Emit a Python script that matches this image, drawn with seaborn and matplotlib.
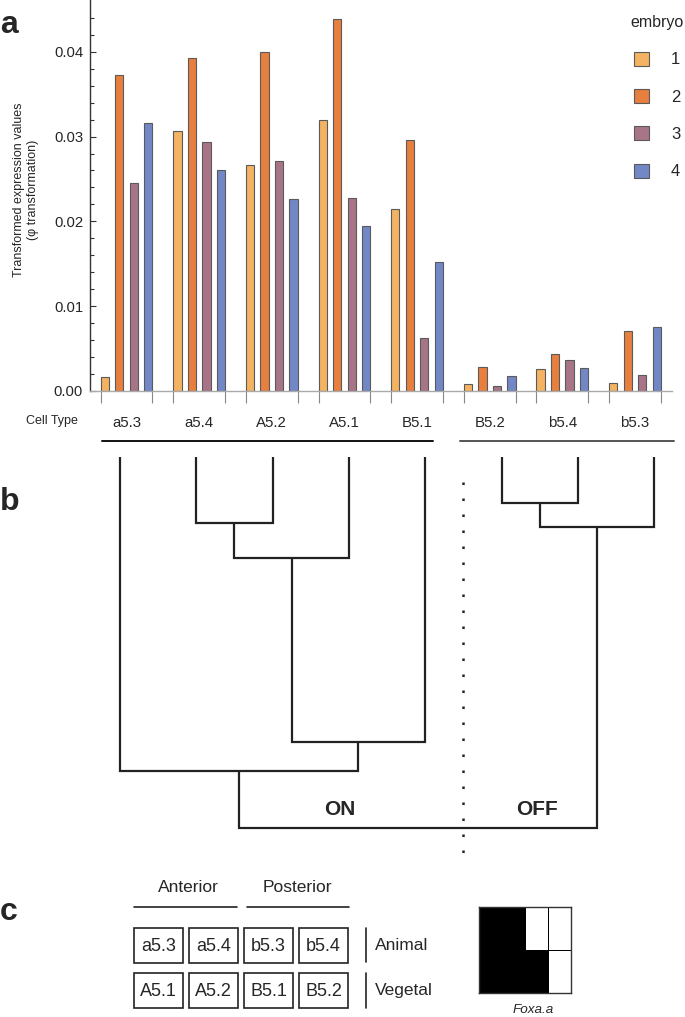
import numpy as np
import pandas as pd
import matplotlib
matplotlib.use('Agg')
import matplotlib.pyplot as plt
from matplotlib.patches import Rectangle
import seaborn as sns

# bar chart data (panel a)
cells = ['a5.3', 'a5.4', 'A5.2', 'A5.1', 'B5.1', 'B5.2', 'b5.4', 'b5.3']
embryos = ['1', '2', '3', '4']
emb1 = [0.0016, 0.0306, 0.0267, 0.0320, 0.0215, 0.0008, 0.0026, 0.0010]
emb2 = [0.0373, 0.0393, 0.0400, 0.0439, 0.0296, 0.0028, 0.0044, 0.0071]
emb3 = [0.0245, 0.0294, 0.0271, 0.0227, 0.0063, 0.0006, 0.0036, 0.0019]
emb4 = [0.0316, 0.0261, 0.0226, 0.0194, 0.0152, 0.0018, 0.0027, 0.0075]
colors = ['#F3B362', '#E7803F', '#A87487', '#7287C6']

# dendrogram data (panel b): (left, right, height)
merges = [
    ('a5.4', 'A5.2', 0.178),
    ('n1', 'A5.1', 0.272),
    ('n2', 'B5.1', 0.768),
    ('a5.3', 'n3', 0.846),
    ('B5.2', 'b5.4', 0.124),
    ('n5', 'b5.3', 0.189),
    ('n4', 'n6', 1.0),
]

# panel c layout
top_row = ['a5.3', 'a5.4', 'b5.3', 'b5.4']
bottom_row = ['A5.1', 'A5.2', 'B5.1', 'B5.2']
on_cells = ['a5.3', 'a5.4', 'A5.2', 'A5.1', 'B5.1']

W, H = 685, 1017
sns.set_style('ticks')
plt.rcParams['font.family'] = ['Liberation Sans', 'DejaVu Sans']

fig = plt.figure(figsize=(W / 100, H / 100), dpi=100)

# ---- panel a ----
ax = fig.add_axes([90 / W, 1 - 391 / H, (672 - 90) / W, 391 / H])
df = pd.DataFrame({
    'cell': np.repeat(cells, 4),
    'embryo': embryos * len(cells),
    'value': np.array([emb1, emb2, emb3, emb4]).T.ravel(),
})
bw, bgap = 0.8, 0.43
sns.barplot(data=df, x='cell', y='value', hue='embryo', order=cells,
            hue_order=embryos, palette=colors, width=bw, gap=bgap, saturation=1,
            edgecolor='#5a5a5a', linewidth=0.8, errorbar=None, ax=ax)
ax.set_xlim(-0.503, 7.51)
ax.set_ylim(0, 0.0461)
ax.set_xlabel('')
ax.set_ylabel('')
ax.set_yticks([0, 0.01, 0.02, 0.03, 0.04])
ax.set_yticklabels(['0.00', '0.01', '0.02', '0.03', '0.04'])
ax.set_yticks(np.arange(0, 0.046, 0.002), minor=True)
edge = bw / 2 - (bw / len(embryos)) * bgap / 2
ax.set_xticks([i + d for i in range(len(cells)) for d in (-edge, edge)], minor=True)
ax.tick_params(axis='x', which='major', length=0, pad=18, labelsize=10.8)
ax.tick_params(axis='x', which='minor', direction='out', length=8.5, width=0.8, color='#888888')
ax.tick_params(axis='y', which='major', direction='in', length=4.5, width=0.8,
               color='#333333', labelsize=10.7, pad=5)
ax.tick_params(axis='y', which='minor', direction='in', length=3.2, width=0.8, color='#333333')
for s in ['top', 'right']:
    ax.spines[s].set_visible(False)
ax.spines['left'].set_color('#333333')
ax.spines['left'].set_linewidth(1)
ax.spines['bottom'].set_color('#aaaaaa')
ax.spines['bottom'].set_linewidth(1)
sns.move_legend(ax, 'upper right', bbox_to_anchor=(684 / W, 1 - 15 / H),
                bbox_transform=fig.transFigure, frameon=False, title='embryo',
                fontsize=12, title_fontsize=11.5, handlelength=0.9, handleheight=0.9,
                handletextpad=1.3, labelspacing=1.3, borderpad=0, borderaxespad=0)

# ---- panel b ----
axd = fig.add_axes([0, 1 - 870 / H, 1, 420 / H])
axd.set_xlim(-120 / 76.3, (W - 120) / 76.3)
axd.set_ylim(413 / 371, -7 / 371)
axd.axis('off')
pos = {c: (i, 0.0) for i, c in enumerate(cells)}
for k, (l, r, h) in enumerate(merges, start=1):
    xl, hl = pos[l]
    xr, hr = pos[r]
    axd.plot([xl, xl, xr, xr], [hl, h, h, hr], color='#222222', lw=1.6,
             solid_joinstyle='miter', solid_capstyle='butt')
    pos['n%d' % k] = ((xl + xr) / 2, h)
axd.plot([4.495, 4.495], [0.067, 1.09], color='#222222', lw=1.8,
         linestyle=(0, (1, 5.4)))
axd.text(2.883, 0.951, 'ON', fontsize=15, fontweight='bold', ha='center', va='center')
axd.text(5.465, 0.951, 'OFF', fontsize=15, fontweight='bold', ha='center', va='center')

# ---- overlay (labels, panel c) ----
ov = fig.add_axes([0, 0, 1, 1])
ov.set_xlim(0, W)
ov.set_ylim(H, 0)
ov.axis('off')
ov.patch.set_alpha(0)
for lbl, yb in [('a', 33), ('b', 510), ('c', 920)]:
    ov.text(0, yb, lbl, fontsize=23, fontweight='bold', va='baseline', ha='left')
ov.text(26, 190, 'Transformed expression values\n(φ transformation)', rotation=90,
        fontsize=9, ha='center', va='center', multialignment='center')
ov.text(52, 421, 'Cell Type', fontsize=9, ha='center', va='center')
ov.plot([102, 433], [441, 441], color='#111111', lw=1.4)
ov.plot([460, 674], [441, 441], color='#555555', lw=1.4)

ov.text(188, 888, 'Anterior', fontsize=12.5, ha='center', va='center')
ov.text(297, 888, 'Posterior', fontsize=12.5, ha='center', va='center')
ov.plot([134, 237], [907, 907], color='#222222', lw=1.2)
ov.plot([247, 349], [907, 907], color='#222222', lw=1.2)
box_x = [134, 189, 244, 299]
for row, (y0, y1) in zip([top_row, bottom_row], [(928, 963), (973, 1008)]):
    for name, x0 in zip(row, box_x):
        ov.add_patch(Rectangle((x0, y0), 49, y1 - y0, fill=False, ec='#222222', lw=1.2))
        ov.text(x0 + 24.5, (y0 + y1) / 2 + 1, name, fontsize=13, ha='center', va='center')
ov.plot([366, 366], [928, 962], color='#222222', lw=1.2)
ov.plot([366, 366], [973, 1008], color='#222222', lw=1.2)
ov.text(375, 946, 'Animal', fontsize=12.5, ha='left', va='center')
ov.text(375, 991, 'Vegetal', fontsize=12.5, ha='left', va='center')
ov.text(533, 1010, 'Foxa.a', fontsize=9.7, style='italic', ha='center', va='center')

# expression grid
grid = np.array([[1 if c in on_cells else 0 for c in top_row],
                 [1 if c in on_cells else 0 for c in bottom_row]])
axg = fig.add_axes([479 / W, 1 - 993 / H, 92 / W, 86 / H])
sns.heatmap(grid, cmap=['white', 'black'], vmin=0, vmax=1, cbar=False,
            linewidths=0.6, linecolor='#000000', xticklabels=False, yticklabels=False, ax=axg)
for s in axg.spines.values():
    s.set_visible(True)
    s.set_color('#333333')
    s.set_linewidth(1.0)

fig.savefig('out.png', dpi=100)
